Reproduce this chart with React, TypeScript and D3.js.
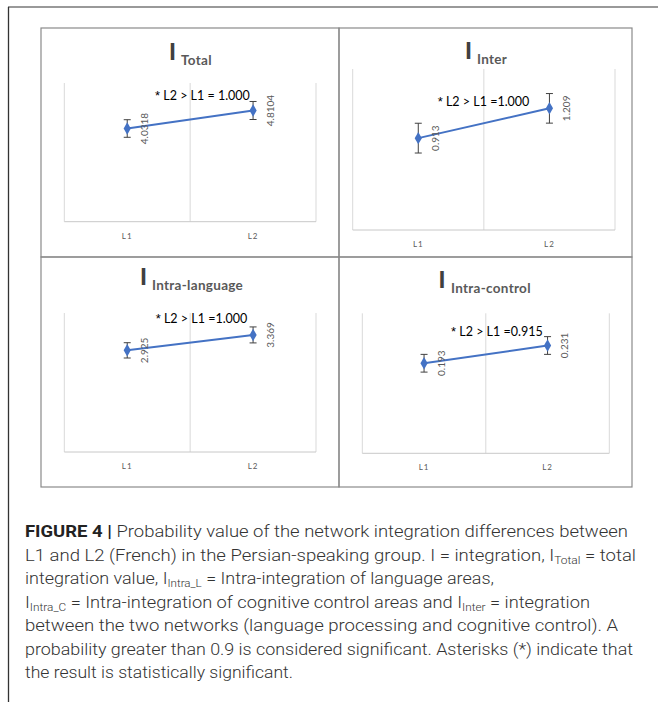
import React, { useEffect, useRef } from 'react';
import * as d3 from 'd3';

// categories on the x axis of every panel
const categories = ['L1', 'L2'];

// panel titles (subscripts of "I")
const panelTitles = ['Total', 'Inter', 'Intra-language', 'Intra-control'];

// means and error bar half-widths
const totalMeans = [4.0318, 4.8104];
const totalErrors = [0.38, 0.39];
const interMeans = [0.913, 1.209];
const interErrors = [0.148, 0.147];
const intraLangMeans = [2.925, 3.369];
const intraLangErrors = [0.22, 0.23];
const intraCtrlMeans = [0.193, 0.231];
const intraCtrlErrors = [0.019, 0.019];

// value labels shown next to the markers
const totalLabels = ['4.0318', '4.8104'];
const interLabels = ['0.913', '1.209'];
const intraLangLabels = ['2.925', '3.369'];
const intraCtrlLabels = ['0.193', '0.231'];

// y axis maxima (hidden axes)
const yMaxima = [6, 1.6, 4, 0.3];

// significance notes (after the asterisk)
const notes = [' L2 > L1 = 1.000', ' L2 > L1 =1.000', ' L2 > L1 =1.000', ' L2 > L1 =0.915'];

const captionLines = [
  [{ t: 'FIGURE 4 | ', b: true }, { t: 'Probability value of the network integration differences between' }],
  [{ t: 'L1 and L2 (French) in the Persian-speaking group. I = integration, I' }, { t: 'Total', sub: true }, { t: ' = total' }],
  [{ t: 'integration value, I' }, { t: 'Intra_L', sub: true }, { t: ' = Intra-integration of language areas,' }],
  [{ t: 'I' }, { t: 'Intra_C', sub: true }, { t: ' = Intra-integration of cognitive control areas and I' }, { t: 'Inter', sub: true }, { t: ' = integration' }],
  [{ t: 'between the two networks (language processing and cognitive control). A' }],
  [{ t: 'probability greater than 0.9 is considered significant. Asterisks (*) indicate that' }],
  [{ t: 'the result is statistically significant.' }],
];
const captionWidths = [603, 611, 469, 565, 593, 608, 268];

const W = 658;
const H = 702;
const FONT = 'Lato, "Liberation Sans", sans-serif';

interface PanelLayout {
  box: [number, number, number, number];
  plot: { left: number; right: number; top: number; bottom: number };
  titleX: number;
  titleY: number;
  subDx: number;
  noteX: number;
  noteY: number;
}

const layouts: PanelLayout[] = [
  { box: [41, 28, 339, 257], plot: { left: 64.3, right: 316, top: 83, bottom: 221.7 }, titleX: 169, titleY: 60, subDx: 12, noteX: 155, noteY: 100 },
  { box: [339, 28, 632, 257], plot: { left: 352.7, right: 615, top: 69, bottom: 230 }, titleX: 465, titleY: 59, subDx: 12, noteX: 437.7, noteY: 106 },
  { box: [41, 257, 339, 487], plot: { left: 64.3, right: 316, top: 313, bottom: 452 }, titleX: 140, titleY: 285, subDx: 12, noteX: 155.7, noteY: 322.7 },
  { box: [339, 257, 632, 487], plot: { left: 362.3, right: 609.3, top: 313.3, bottom: 453.3 }, titleX: 438.5, titleY: 288.3, subDx: 12.5, noteX: 451, noteY: 336 },
];

const App: React.FC = () => {
  const svgRef = useRef<SVGSVGElement>(null);

  useEffect(() => {
    if (!svgRef.current) return;
    const svg = d3.select(svgRef.current);
    svg.selectAll('*').remove();

    svg.append('rect').attr('width', W).attr('height', H).attr('fill', '#fff');

    // outer frame
    svg.append('line').attr('x1', 8).attr('x2', W).attr('y1', 7).attr('y2', 7)
      .attr('stroke', '#777').attr('stroke-width', 1.3);
    svg.append('line').attr('x1', 8.5).attr('x2', 8.5).attr('y1', 7).attr('y2', H)
      .attr('stroke', '#333').attr('stroke-width', 1.3);

    const means = [totalMeans, interMeans, intraLangMeans, intraCtrlMeans];
    const errors = [totalErrors, interErrors, intraLangErrors, intraCtrlErrors];
    const labels = [totalLabels, interLabels, intraLangLabels, intraCtrlLabels];

    layouts.forEach((lay, i) => {
      const g = svg.append('g');
      const [x0, y0, x1, y1] = lay.box;
      g.append('rect').attr('x', x0).attr('y', y0).attr('width', x1 - x0).attr('height', y1 - y0)
        .attr('fill', 'none').attr('stroke', '#8a8a8a').attr('stroke-width', 1.2);

      const { left, right, top, bottom } = lay.plot;
      const x = d3.scaleBand<string>().domain(categories).range([left, right]).padding(0);
      const y = d3.scaleLinear().domain([0, yMaxima[i]]).range([bottom, top]);

      // vertical gridlines at category boundaries
      const bounds = [left, ...categories.map(c => (x(c) ?? 0) + x.bandwidth())];
      g.selectAll('line.grid').data(bounds).enter().append('line')
        .attr('x1', d => d).attr('x2', d => d).attr('y1', top).attr('y2', bottom)
        .attr('stroke', '#d9d9d9').attr('stroke-width', 1);
      // category axis
      g.append('line').attr('x1', left).attr('x2', right).attr('y1', bottom).attr('y2', bottom)
        .attr('stroke', '#c8c8c8').attr('stroke-width', 1);
      g.selectAll('text.cat').data(categories).enter().append('text')
        .attr('x', d => (x(d) ?? 0) + x.bandwidth() / 2)
        .attr('y', bottom + 17)
        .attr('text-anchor', 'middle')
        .attr('font-family', FONT).attr('font-size', 8).attr('letter-spacing', 1)
        .attr('fill', '#595959')
        .text(d => d);

      // title
      g.append('text').attr('x', lay.titleX).attr('y', lay.titleY)
        .attr('font-family', FONT).attr('fill', '#404040')
        .attr('font-size', 23).attr('font-weight', 900).text('I');
      g.append('text').attr('x', lay.titleX + lay.subDx).attr('y', lay.titleY + 5)
        .attr('font-family', FONT).attr('font-size', 13.5).attr('font-weight', 700)
        .attr('letter-spacing', 0.3)
        .attr('fill', '#595959').text(panelTitles[i]);

      // significance note
      const nt = g.append('text').attr('x', lay.noteX).attr('y', lay.noteY)
        .attr('font-family', FONT).attr('font-size', 12.5).attr('fill', '#000');
      nt.append('tspan').attr('font-family', '"Liberation Sans", sans-serif').attr('font-size', 13).text('*');
      nt.append('tspan').text(notes[i]);

      const pts = categories.map((c, k) => ({
        cx: (x(c) ?? 0) + x.bandwidth() / 2,
        v: means[i][k],
        e: errors[i][k],
        label: labels[i][k],
      }));

      // error bars
      const eb = g.selectAll('g.err').data(pts).enter().append('g');
      eb.append('line').attr('x1', d => d.cx).attr('x2', d => d.cx)
        .attr('y1', d => y(d.v - d.e)).attr('y2', d => y(d.v + d.e))
        .attr('stroke', '#404040').attr('stroke-width', 1);
      [-1, 1].forEach(s => {
        eb.append('line').attr('x1', d => d.cx - 3.5).attr('x2', d => d.cx + 3.5)
          .attr('y1', d => y(d.v + s * d.e)).attr('y2', d => y(d.v + s * d.e))
          .attr('stroke', '#404040').attr('stroke-width', 1);
      });

      // line
      const line = d3.line<{ cx: number; v: number }>().x(d => d.cx).y(d => y(d.v));
      g.append('path').attr('d', line(pts)).attr('fill', 'none')
        .attr('stroke', '#4472c4').attr('stroke-width', 2);

      // markers
      g.selectAll('path.mk').data(pts).enter().append('path')
        .attr('d', d3.symbol().type(d3.symbolDiamond).size(45)())
        .attr('transform', d => `translate(${d.cx},${y(d.v)})`)
        .attr('fill', '#4472c4');

      // value labels rotated
      g.selectAll('text.val').data(pts).enter().append('text')
        .attr('transform', d => `translate(${d.cx + 17},${y(d.v)}) rotate(-90)`)
        .attr('text-anchor', 'middle').attr('dy', '0.35em')
        .attr('font-family', FONT).attr('font-size', 10).attr('fill', '#595959')
        .text(d => d.label);
    });

    // caption
    const capTop = 537;
    captionLines.forEach((parts, li) => {
      const txt = svg.append('text').attr('x', 25).attr('y', capTop + li * 23.5)
        .attr('font-family', 'Roboto, "Liberation Sans", sans-serif').attr('font-size', 17)
        .attr('font-weight', 300).attr('fill', '#333')
        .attr('textLength', captionWidths[li]).attr('lengthAdjust', 'spacingAndGlyphs');
      parts.forEach((p: any) => {
        const ts = txt.append('tspan').text(p.t);
        if (p.b) ts.attr('font-weight', 700).attr('fill', '#222');
        if (p.sub) ts.attr('font-size', 11).attr('baseline-shift', '-25%');
      });
    });
  }, []);

  return (
    <svg ref={svgRef} width={W} height={H}
      style={{ position: 'absolute', left: 0, top: 0, display: 'block' }} />
  );
};

export default App;
